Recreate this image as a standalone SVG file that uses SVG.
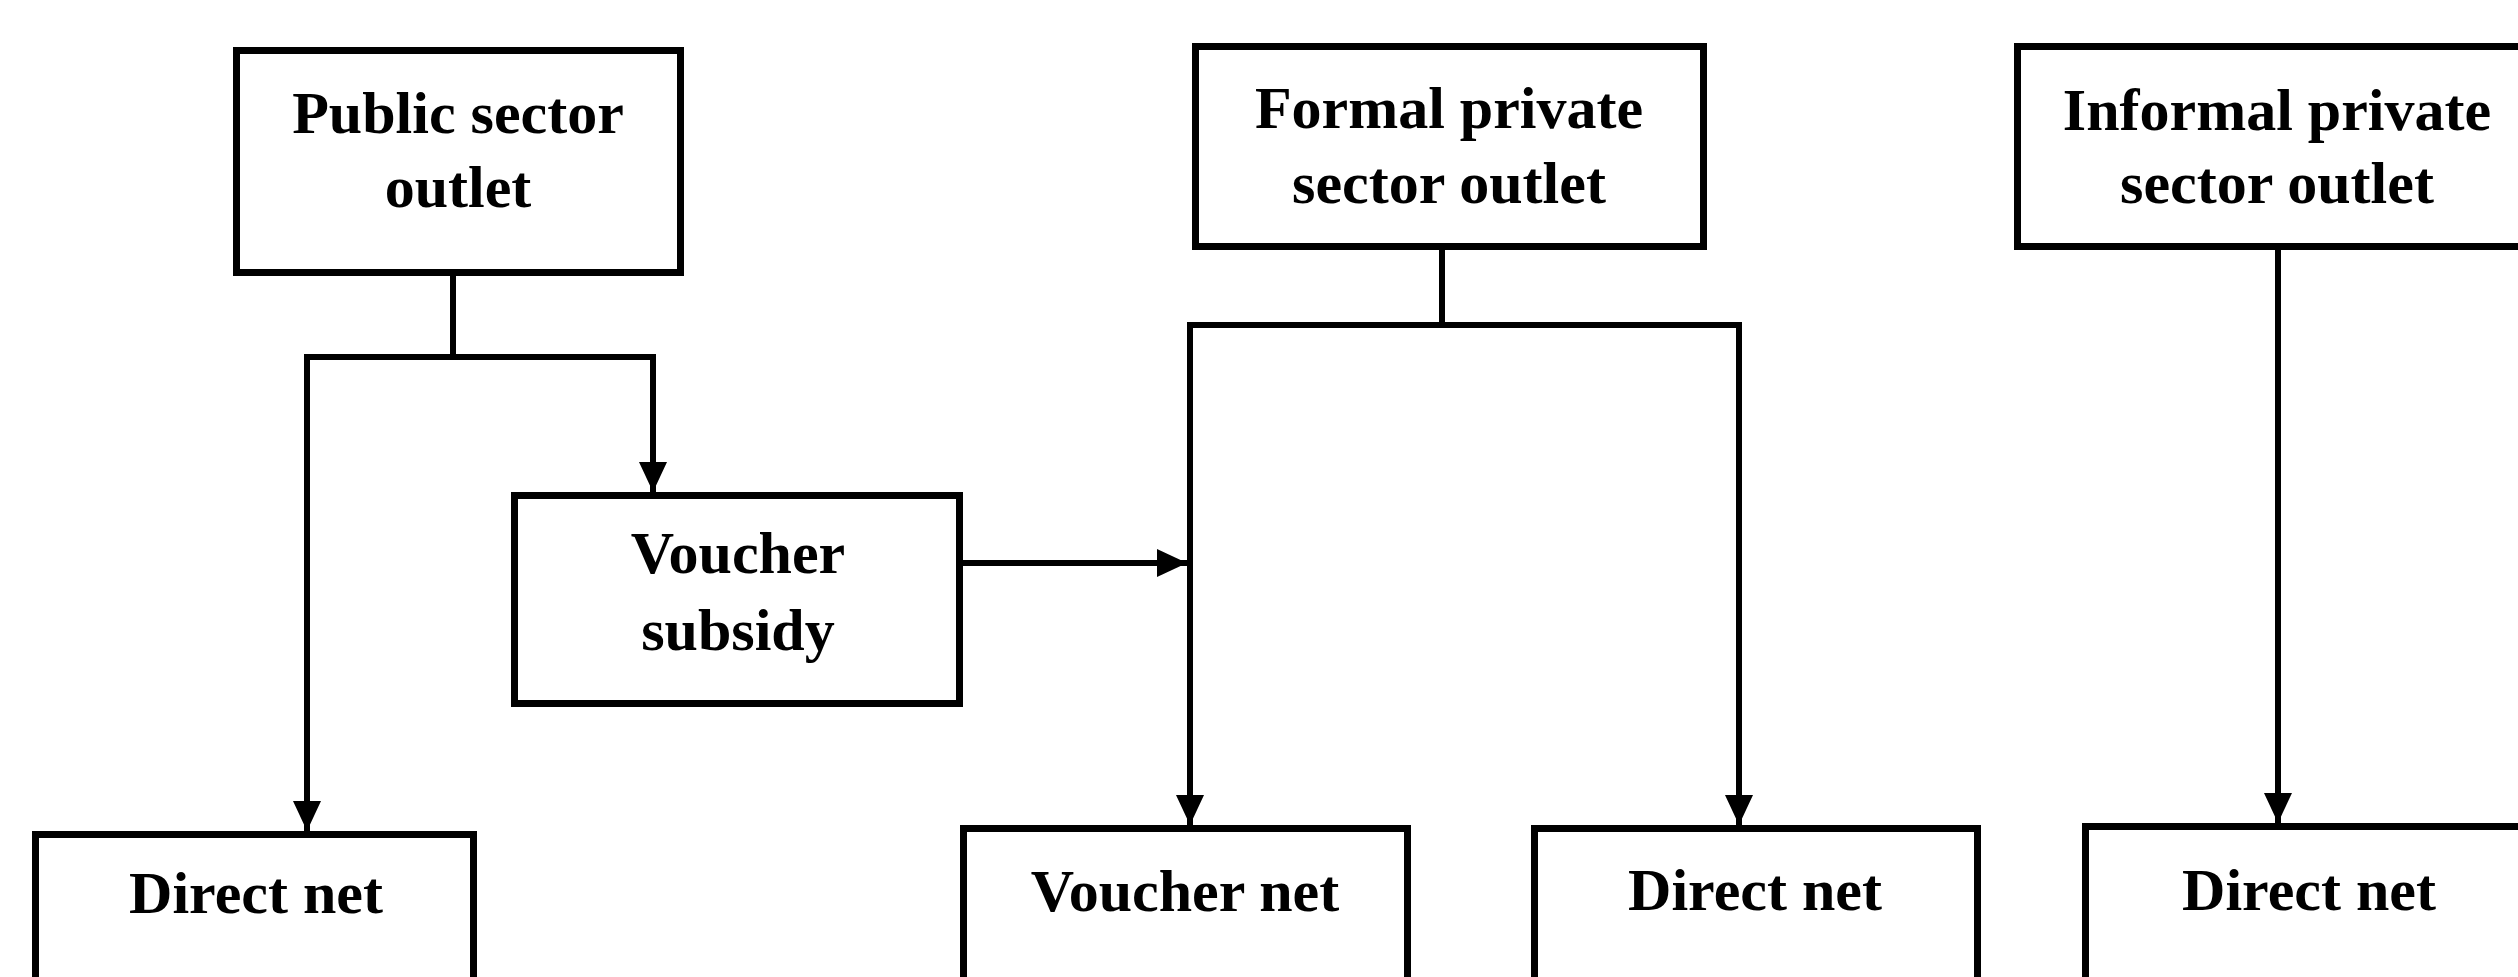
<svg xmlns="http://www.w3.org/2000/svg" width="2518" height="977" viewBox="0 0 2518 977">
  <style>
    .box { fill: #fff; stroke: #000; stroke-width: 7; }
    .lbl { font-family: "Liberation Serif", "Times New Roman", serif; font-weight: bold; font-size: 60px; fill: #000; text-anchor: middle; }
    .wire { fill: none; stroke: #000; stroke-width: 6; stroke-linecap: square; }
    .arrow { fill: none; stroke: #000; stroke-width: 6; stroke-linecap: butt; marker-end: url(#head); }
  </style>
  <defs>
    <marker id="head" markerUnits="userSpaceOnUse" markerWidth="32" markerHeight="30" refX="30" refY="14" orient="auto">
      <path d="M0,0 L30,14 L0,28 z" fill="#000"/>
    </marker>
  </defs>
  <rect width="2518" height="977" fill="#fff"/>

  <!-- connectors -->
  <g id="connectors">
    <!-- public sector split -->
    <path class="wire" d="M453 275 V357"/>
    <path class="wire" d="M307 357 H653"/>
    <path class="arrow" d="M307 357 V831"/>
    <path class="arrow" d="M653 357 V492"/>
    <!-- formal private split -->
    <path class="wire" d="M1442 250 V325"/>
    <path class="wire" d="M1190 325 H1739"/>
    <path class="arrow" d="M1190 325 V825"/>
    <path class="arrow" d="M1739 325 V825"/>
    <!-- informal private -->
    <path class="arrow" d="M2278 249 V823"/>
    <!-- voucher subsidy into voucher route -->
    <path class="arrow" d="M963 563 H1187"/>
  </g>

  <g id="public-sector">
    <rect class="box" x="236.5" y="50.5" width="444" height="222"/>
    <text class="lbl" x="458" y="133">Public sector</text>
    <text class="lbl" x="458" y="207">outlet</text>
  </g>

  <g id="formal-private">
    <rect class="box" x="1195.5" y="46.5" width="508" height="200"/>
    <text class="lbl" x="1449" y="128">Formal private</text>
    <text class="lbl" x="1449" y="203">sector outlet</text>
  </g>

  <g id="informal-private">
    <rect class="box" x="2017.5" y="46.5" width="540" height="200"/>
    <text class="lbl" x="2277" y="130">Informal private</text>
    <text class="lbl" x="2277" y="203">sector outlet</text>
  </g>

  <g id="voucher-subsidy">
    <rect class="box" x="514.5" y="495.5" width="445" height="208"/>
    <text class="lbl" x="738" y="573">Voucher</text>
    <text class="lbl" x="738" y="650">subsidy</text>
  </g>

  <g id="public-direct-net">
    <rect class="box" x="35.5" y="834.5" width="438" height="200"/>
    <text class="lbl" x="256" y="913">Direct net</text>
  </g>

  <g id="voucher-net">
    <rect class="box" x="963.5" y="828.5" width="444" height="200"/>
    <text class="lbl" x="1185" y="911">Voucher net</text>
  </g>

  <g id="formal-direct-net">
    <rect class="box" x="1534.5" y="828.5" width="443" height="200"/>
    <text class="lbl" x="1755" y="910">Direct net</text>
  </g>

  <g id="informal-direct-net">
    <rect class="box" x="2085.5" y="826.5" width="500" height="200"/>
    <text class="lbl" x="2309" y="910">Direct net</text>
  </g>
</svg>
